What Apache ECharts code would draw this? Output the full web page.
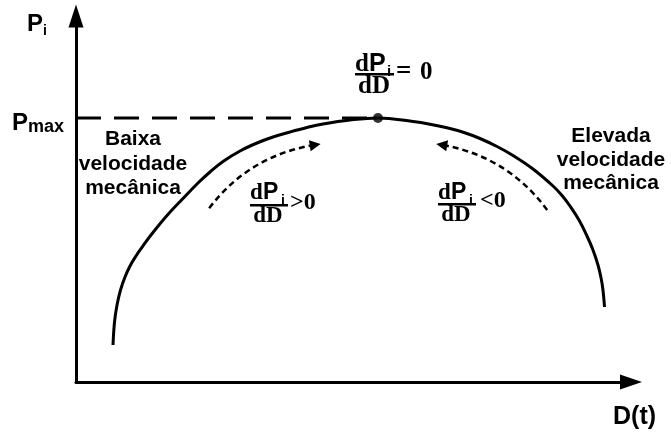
<!DOCTYPE html>
<html>
<head>
<meta charset="utf-8">
<script src="https://cdn.jsdelivr.net/npm/echarts@6/dist/echarts.min.js"></script>
<style>
  html, body { margin: 0; padding: 0; background: #fff; }
  #chart { width: 671px; height: 432px; }
</style>
</head>
<body>
<div id="chart"></div>
<script>
// P-D characteristic: extracted power P_i against duty cycle D (both in % of axis span)
const dutyCycle = [6.67, 6.94, 7.39, 8.02, 8.83, 9.73, 10.81, 12.07, 13.51, 16.40, 19.28, 21.98, 24.14,
                   26.49, 29.55, 32.61, 35.50, 38.56, 41.62, 44.50, 49.37, 54.41,
                   60.72, 63.78, 66.85, 69.91, 72.79, 75.86, 78.74, 82.34, 85.95, 87.57, 89.01,
                   90.63, 92.07, 93.15, 94.05, 94.59, 94.95, 95.23];
const power     = [10.11, 16.39, 21.04, 25.14, 28.69, 31.69, 34.43, 37.16, 40.16, 45.49, 50.14, 54.37, 57.38,
                   60.25, 63.11, 65.30, 66.94, 68.31, 69.54, 70.49, 71.58, 72.13,
                   71.17, 70.44, 69.45, 68.17, 66.53, 64.34, 61.89, 58.20, 53.55, 50.96, 48.09,
                   44.26, 39.89, 36.07, 31.97, 28.55, 25.14, 20.49];

// Maximum power point
const peakD = 54.41;
const peakP = 72.13;

// Direction of the tracking on each side of the peak (start, end)
const climbArrow   = [[24.0, 47.5], [43.1, 64.8]];
const descendArrow = [[84.9, 47.0], [65.9, 64.8]];

const SANS = '"Liberation Sans", Arial, sans-serif';
const SERIF = '"Liberation Serif", "Times New Roman", serif';

// text placed by its baseline
function txt(str, x, baseline, size, family, align) {
  return {
    type: 'text',
    z: 100,
    style: {
      text: str,
      x: x,
      y: baseline - 0.31 * size,
      font: 'bold ' + size + 'px ' + family,
      fill: '#000',
      textAlign: align || 'left',
      textVerticalAlign: 'middle'
    }
  };
}

function bar(x, y, w) {
  return { type: 'rect', z: 100, shape: { x: x, y: y, width: w, height: 2.5 }, style: { fill: '#000' } };
}

const curve = dutyCycle.map((d, i) => [d, power[i]]);

const graphics = [
  // axis titles
  txt('P', 27, 32, 24, SANS), txt('i', 43, 35, 14, SANS),
  txt('P', 12, 131, 24, SANS), txt('max', 28, 133, 18, SANS),
  txt('D(t)', 613, 425, 25, SANS),
  // region labels
  txt('Baixa', 133, 146, 21, SANS, 'center'),
  txt('velocidade', 133, 171, 21, SANS, 'center'),
  txt('mecânica', 133, 195, 21, SANS, 'center'),
  txt('Elevada', 611, 143, 21, SANS, 'center'),
  txt('velocidade', 611, 167, 21, SANS, 'center'),
  txt('mecânica', 611, 190, 21, SANS, 'center'),
  // dP/dD = 0
  txt('d', 355, 72, 25, SERIF), txt('P', 369, 72, 25, SANS), txt('i', 387, 77, 15, SANS),
  bar(355, 73, 39),
  txt('dD', 374, 94, 25, SERIF, 'center'),
  txt('=', 396, 80, 27, SERIF), txt('0', 420, 80, 25, SERIF),
  // dP/dD > 0
  txt('d', 250, 200, 23, SERIF), txt('P', 263, 200, 23, SANS), txt('i', 281, 205, 14, SANS),
  bar(250, 204, 38),
  txt('dD', 268, 223, 23, SERIF, 'center'),
  txt('>0', 290, 210, 24, SERIF),
  // dP/dD < 0
  txt('d', 438, 200, 23, SERIF), txt('P', 451, 200, 23, SANS), txt('i', 469, 205, 14, SANS),
  bar(438, 203, 38),
  txt('dD', 456, 222, 23, SERIF, 'center'),
  txt('<0', 480, 208, 24, SERIF)
];

const chart = echarts.init(document.getElementById('chart'), null, { renderer: 'canvas' });

chart.setOption({
  animation: false,
  backgroundColor: '#fff',
  grid: { left: 76, right: 40, top: 16, bottom: 50 },
  xAxis: {
    type: 'value', min: 0, max: 100,
    axisLine: { show: true, onZero: false, symbol: ['none', 'triangle'], symbolSize: [15, 22],
      lineStyle: { color: '#000', width: 3 } },
    axisTick: { show: false }, axisLabel: { show: false }, splitLine: { show: false }
  },
  yAxis: {
    type: 'value', min: 0, max: 100,
    axisLine: { show: true, onZero: false, symbol: ['none', 'triangle'], symbolSize: [15, 23],
      lineStyle: { color: '#000', width: 3 } },
    axisTick: { show: false }, axisLabel: { show: false }, splitLine: { show: false }
  },
  series: [
    {
      name: 'P_i(D)', type: 'line', data: curve, smooth: 0.4, showSymbol: false,
      lineStyle: { color: '#000', width: 3 }, z: 3
    },
    {
      name: 'Pmax', type: 'line', data: [[0, peakP], [peakD, peakP]], showSymbol: false,
      lineStyle: { color: '#000', width: 3, type: [25, 13] }, z: 2
    },
    {
      name: 'MPP', type: 'scatter', data: [[peakD, peakP]], symbolSize: 10,
      itemStyle: { color: '#000' }, z: 4
    },
    {
      name: 'tracking', type: 'lines', coordinateSystem: 'cartesian2d',
      symbol: ['none', 'triangle'], symbolSize: 11,
      lineStyle: { color: '#000', width: 2.5, type: [6, 4], opacity: 1 },
      data: [
        { coords: climbArrow, lineStyle: { curveness: 0.2 } },
        { coords: descendArrow, lineStyle: { curveness: -0.2 } }
      ],
      z: 5
    }
  ],
  graphic: graphics
});
</script>
</body>
</html>
